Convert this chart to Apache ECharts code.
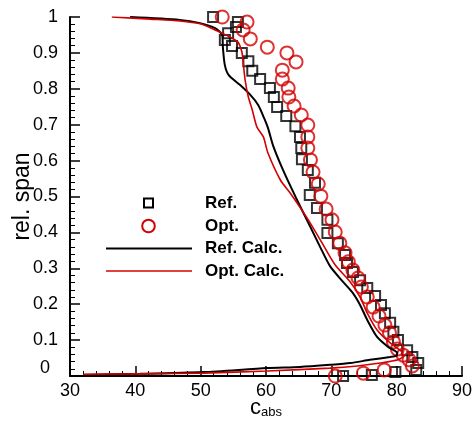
<!DOCTYPE html>
<html>
<head>
<meta charset="utf-8">
<script src="https://cdn.jsdelivr.net/npm/echarts@6/dist/echarts.min.js"></script>
<style>
  html, body { margin: 0; padding: 0; background: #fff; }
  #chart { width: 474px; height: 421px; }
</style>
</head>
<body>
<div id="chart"></div>
<script>
// Measured profiles: absolute velocity c_abs over relative span
const refMeasX = [51.9, 55.7, 55.4, 54.2, 53.7, 54.8, 56.3, 57.3, 57.9, 59.1, 60.6, 61.2, 61.7, 63.1, 64.5, 65.2, 65.4, 65.5, 66.4, 67.5, 66.7, 67.8, 69.4, 69.4, 71.0, 72.1, 72.4, 73.3, 74.4, 75.5, 76.7, 77.6, 78.2, 79.0, 79.5, 80.2, 81.6, 82.4, 83.3, 83.0, 79.8, 76.2, 71.8];
const refMeasY = [1.000, 0.986, 0.972, 0.955, 0.936, 0.919, 0.900, 0.877, 0.850, 0.827, 0.802, 0.777, 0.749, 0.724, 0.696, 0.666, 0.635, 0.604, 0.574, 0.538, 0.504, 0.468, 0.435, 0.398, 0.370, 0.337, 0.315, 0.290, 0.267, 0.245, 0.223, 0.198, 0.175, 0.148, 0.123, 0.100, 0.072, 0.053, 0.036, 0.017, 0.011, 0.003, 0.000];

const optMeasX = [53.3, 57.1, 56.5, 57.6, 60.2, 63.2, 64.6, 62.5, 62.5, 63.4, 63.5, 64.3, 65.4, 66.4, 66.4, 66.4, 66.8, 67.2, 68.0, 68.4, 69.2, 70.1, 70.6, 71.3, 72.1, 72.6, 73.3, 74.1, 74.6, 75.5, 76.4, 77.3, 78.2, 78.9, 79.5, 80.1, 81.0, 81.9, 82.4, 78.1, 74.9, 70.6];
const optMeasY = [1.000, 0.986, 0.964, 0.939, 0.916, 0.900, 0.875, 0.852, 0.827, 0.802, 0.777, 0.752, 0.727, 0.699, 0.666, 0.635, 0.602, 0.568, 0.535, 0.501, 0.465, 0.435, 0.401, 0.370, 0.343, 0.318, 0.295, 0.273, 0.248, 0.220, 0.192, 0.167, 0.142, 0.120, 0.095, 0.075, 0.058, 0.045, 0.028, 0.017, 0.008, 0.000];

// Computed profiles
const refCalcX = [39.2, 46.8, 49.9, 52.2, 53.3, 53.4, 53.7, 54.3, 56.0, 57.6, 58.8, 59.7, 60.3, 61.1, 62.6, 64.6, 66.8, 68.3, 69.8, 71.8, 73.3, 74.4, 75.5, 77.0, 78.7, 80.1, 79.9, 79.0, 75.9, 72.9, 69.8, 65.2, 60.2, 50.4, 40.7, 32.0];
const refCalcY = [1.000, 0.992, 0.983, 0.969, 0.950, 0.916, 0.866, 0.838, 0.811, 0.783, 0.755, 0.719, 0.691, 0.641, 0.574, 0.496, 0.415, 0.359, 0.306, 0.262, 0.231, 0.198, 0.156, 0.109, 0.081, 0.064, 0.056, 0.053, 0.045, 0.036, 0.031, 0.025, 0.022, 0.011, 0.006, 0.003];

const optCalcX = [36.4, 42.3, 46.8, 49.9, 52.2, 54.2, 55.7, 56.3, 56.5, 56.8, 57.3, 57.9, 58.6, 59.6, 60.3, 62.2, 63.7, 65.2, 66.8, 68.6, 70.6, 72.9, 74.4, 75.5, 77.0, 79.0, 80.8, 81.0, 80.2, 77.5, 74.0, 69.8, 60.2, 50.4, 40.7, 32.0];
const optCalcY = [1.000, 0.994, 0.989, 0.981, 0.964, 0.947, 0.930, 0.903, 0.875, 0.825, 0.777, 0.741, 0.694, 0.666, 0.621, 0.546, 0.510, 0.470, 0.425, 0.370, 0.309, 0.262, 0.220, 0.175, 0.128, 0.092, 0.067, 0.056, 0.045, 0.036, 0.028, 0.022, 0.014, 0.008, 0.006, 0.005];

const xTicks = [30, 40, 50, 60, 70, 80, 90];
const yTicks = [0, 0.1, 0.2, 0.3, 0.4, 0.5, 0.6, 0.7, 0.8, 0.9, 1];

const legendNames = ['Ref.', 'Opt.', 'Ref. Calc.', 'Opt. Calc.'];

const zip = (xs, ys) => xs.map((x, i) => [x, ys[i]]);

const FONT = 'Liberation Sans, Arial, sans-serif';
const RED = '#d40000';

const chart = echarts.init(document.getElementById('chart'), null, { renderer: 'canvas' });

const axisCommon = {
  axisLine: { show: true, onZero: false, lineStyle: { color: '#000', width: 2 } },
  axisTick: { show: true, inside: true, length: 10, lineStyle: { color: '#000', width: 1.5 } },
  minorTick: { show: true, splitNumber: 5, length: 5, lineStyle: { color: '#000', width: 1 } },
  splitLine: { show: false },
  minorSplitLine: { show: false },
  nameMoveOverlap: false
};

// Legend built as graphic items inside the plot area
const legendX = 106, textX = 205, rowY = [203, 226, 248.5, 271];
const legendGraphics = [
  { type: 'rect', shape: { x: 144, y: rowY[0] - 4.5, width: 9, height: 9 },
    style: { fill: 'none', stroke: '#000', lineWidth: 2 } },
  { type: 'circle', shape: { cx: 148.5, cy: rowY[1], r: 6.3 },
    style: { fill: 'none', stroke: RED, lineWidth: 2 } },
  { type: 'line', shape: { x1: legendX, y1: rowY[2], x2: 192, y2: rowY[2] },
    style: { stroke: '#000', lineWidth: 2 } },
  { type: 'line', shape: { x1: legendX, y1: rowY[3], x2: 192, y2: rowY[3] },
    style: { stroke: RED, lineWidth: 1.6 } }
].concat(legendNames.map((name, i) => ({
  type: 'text', x: textX, y: rowY[i],
  style: { text: name, fill: '#000', font: 'bold 17px ' + FONT, textVerticalAlign: 'middle', verticalAlign: 'middle' }
})));

chart.setOption({
  animation: false,
  backgroundColor: '#fff',
  grid: { left: 70, right: 12, top: 17, bottom: 45, containLabel: false, outerBoundsMode: 'none' },
  xAxis: Object.assign({
    type: 'value',
    min: xTicks[0], max: xTicks[xTicks.length - 1], interval: 10,
    name: '{c|c}{s|abs}',
    nameLocation: 'middle',
    nameGap: 21,
    nameTextStyle: {
      rich: {
        c: { fontFamily: FONT, fontSize: 22, color: '#000', lineHeight: 22, verticalAlign: 'top' },
        s: { fontFamily: FONT, fontSize: 13, color: '#000', lineHeight: 13, verticalAlign: 'bottom', padding: [14, 0, 0, 0] }
      }
    },
    axisLabel: { margin: 6, color: '#000', fontFamily: FONT, fontSize: 18 }
  }, axisCommon),
  yAxis: Object.assign({
    type: 'value',
    min: yTicks[0], max: yTicks[yTicks.length - 1], interval: 0.1,
    name: 'rel. span',
    nameLocation: 'middle',
    nameGap: 36,
    nameTextStyle: { fontFamily: FONT, fontSize: 23, color: '#000' },
    axisLabel: {
      margin: 12, color: '#000', fontFamily: FONT, fontSize: 18,
      formatter: v => (Math.abs(v) < 1e-9 ? '{z|0}' : String(+v.toFixed(1))),
      rich: { z: { fontFamily: FONT, fontSize: 18, color: '#000', padding: [0, 8, 16, 0] } }
    }
  }, axisCommon),
  graphic: legendGraphics,
  series: [
    {
      name: legendNames[0], type: 'scatter', data: zip(refMeasX, refMeasY),
      symbol: 'rect', symbolSize: 10,
      itemStyle: { color: 'transparent', borderColor: '#000', borderWidth: 2 },
      z: 2
    },
    {
      name: legendNames[1], type: 'scatter', data: zip(optMeasX, optMeasY),
      symbol: 'circle', symbolSize: 13,
      itemStyle: { color: 'transparent', borderColor: RED, borderWidth: 2 },
      z: 3
    },
    {
      name: legendNames[2], type: 'line', data: zip(refCalcX, refCalcY),
      symbol: 'none', smooth: 0.25,
      lineStyle: { color: '#000', width: 2 },
      z: 4
    },
    {
      name: legendNames[3], type: 'line', data: zip(optCalcX, optCalcY),
      symbol: 'none', smooth: 0.25,
      lineStyle: { color: RED, width: 1.6 },
      z: 5
    }
  ]
});
</script>
</body>
</html>
